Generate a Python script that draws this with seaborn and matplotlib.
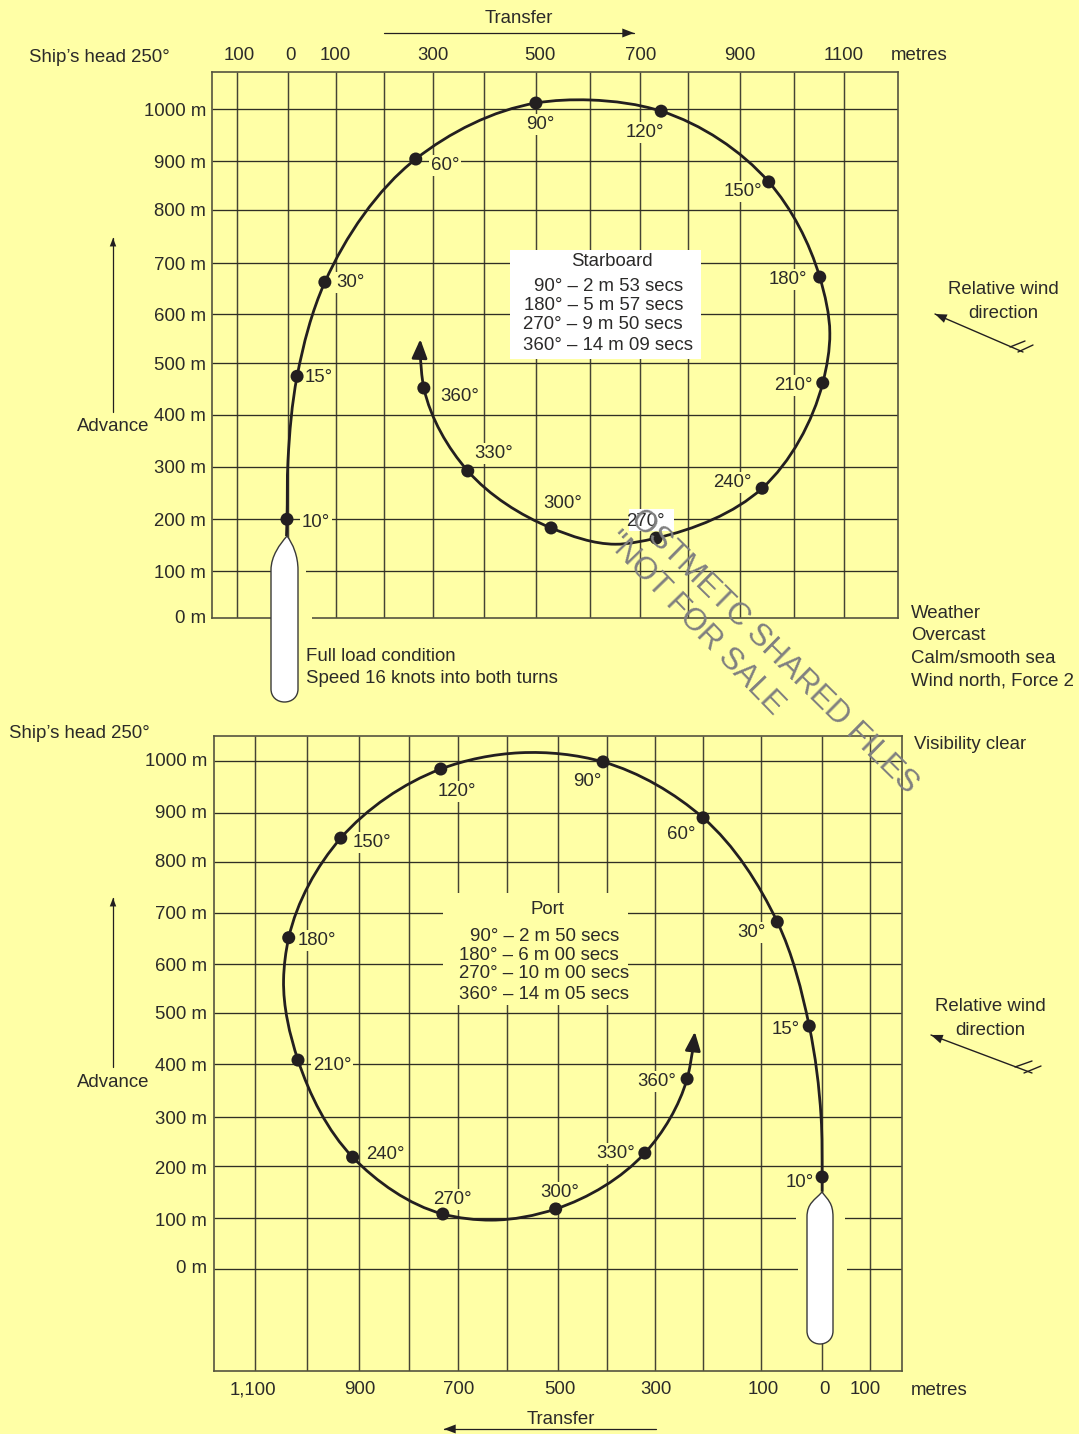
import numpy as np
import pandas as pd
import matplotlib
matplotlib.use('Agg')
import matplotlib.pyplot as plt
from matplotlib.patches import PathPatch, Rectangle
from matplotlib.path import Path
from matplotlib.transforms import Affine2D
import seaborn as sns

W, H = 1079, 1434
BG = '#ffffa6'
INK = '#2b2a29'
LINE = '#231f20'

# starboard turn, metres
stbd_path_x = [-3, -2, 0, 18, 73, 253, 491, 598, 739, 952, 1053, 1073, 1059, 939, 729, 648, 521, 356, 269, 261]
stbd_path_y = [161, 194, 310, 475, 660, 902, 1012, 1018, 996, 857, 670, 560, 462, 255, 157, 145, 177, 289, 452, 523]
stbd_tip = (262, 548)
stbd_dots_x = [-2, 18, 73, 253, 491, 739, 952, 1053, 1059, 939, 729, 521, 356, 269]
stbd_dots_y = [194, 475, 660, 902, 1012, 996, 857, 670, 462, 255, 157, 177, 289, 452]
stbd_grid_x = [-101, 0, 95, 190, 287, 388, 491, 598, 697, 792, 895, 1002, 1101]
stbd_grid_y = [1000, 898, 802, 697, 597, 501, 399, 297, 194, 92]
stbd_xticks = [-97, 4, 93, 287, 499, 699, 895, 1101]
stbd_xlabels = ['100', '0', '100', '300', '500', '700', '900', '1100']

# port turn, metres
port_path_x = [0, 0, 2, 25, 87, 231, 425, 586, 740, 934, 1035, 1045, 1017, 911, 736, 641, 517, 344, 262, 250]
port_path_y = [152, 181, 299, 478, 683, 888, 998, 1016, 984, 848, 652, 569, 411, 220, 108, 96, 118, 228, 374, 437]
port_tip = (247, 467)
port_dots_x = [0, 25, 87, 231, 425, 740, 934, 1035, 1017, 911, 736, 517, 344, 262]
port_dots_y = [181, 478, 683, 888, 998, 984, 848, 652, 411, 220, 108, 118, 228, 374]
port_grid_x = [1101, 1000, 899, 802, 707, 612, 513, 417, 324, 231, 118, 0, -93]
port_grid_y = [1000, 898, 801, 701, 600, 504, 404, 299, 203, 100, 0]
port_xticks = [1105, 897, 705, 509, 322, 115, -4, -84]
port_xlabels = ['1,100', '900', '700', '500', '300', '100', '0', '100']

metres_labels = ['1000 m', '900 m', '800 m', '700 m', '600 m', '500 m', '400 m', '300 m', '200 m', '100 m', '0 m']
stbd_yticks = [1000, 898, 802, 697, 597, 501, 399, 297, 194, 92, 2]
port_yticks = [1002, 900, 803, 701, 600, 504, 402, 299, 199, 98, 4]

angles = ['10°', '15°', '30°', '60°', '90°', '120°', '150°', '180°', '210°', '240°', '270°', '300°', '330°', '360°']
stbd_angle_xy = [(316, 521), (319, 376), (350, 281), (445, 164), (540, 123), (645, 131), (743, 190), (788, 278),
                 (793, 384), (732, 481), (645, 520), (563, 502), (494, 452), (460, 395)]
port_angle_xy = [(800, 1181), (786, 1028), (751, 931), (681, 833), (587, 780), (457, 790), (372, 841), (317, 939),
                 (332, 1064), (385, 1153), (452, 1198), (560, 1191), (616, 1152), (657, 1080)]

sns.set_theme(style='white')
plt.rcParams['font.family'] = ['Liberation Sans', 'DejaVu Sans']
plt.rcParams['text.color'] = INK
FS = 13.4

fig = plt.figure(figsize=(W / 100, H / 100), dpi=100, facecolor=BG)
# picture pixels, y going down
px = Affine2D().scale(1 / W, -1 / H).translate(0, 1) + fig.transFigure


def put(x, y, s, ha='center', **kw):
    kw.setdefault('fontsize', FS)
    return fig.text(x, y + 1.5, s, ha=ha, va='center', transform=px, **kw)


def arrow(tail, tip, lw=1.0, scale=9):
    fig.add_artist(plt.Line2D([tail[0], tip[0]], [tail[1], tip[1]], color=LINE, lw=lw, transform=px))
    d = np.array(tip, float) - np.array(tail, float)
    d = d / np.hypot(*d)
    n = np.array([-d[1], d[0]])
    tip = np.array(tip, float)
    head = np.array([tip, tip - d * scale * 1.3 + n * scale * 0.5, tip - d * scale * 1.3 - n * scale * 0.5])
    fig.add_artist(plt.Polygon(head, closed=True, fc=LINE, ec='none', transform=px, zorder=4))


def ship(l, r, bow, top, shoulder, bottom):
    mid = (l + r) / 2
    verts = [(bow, top), (r - 5, top + 8), (r, shoulder - 14), (r, shoulder),
             (r, bottom - 13), (r, bottom - 5), (r - 6, bottom), (mid, bottom),
             (l + 6, bottom), (l, bottom - 5), (l, bottom - 13),
             (l, shoulder), (l, shoulder - 14), (bow - 7, top + 8), (bow, top)]
    codes = [Path.MOVETO, Path.CURVE4, Path.CURVE4, Path.CURVE4,
             Path.LINETO, Path.CURVE4, Path.CURVE4, Path.CURVE4,
             Path.CURVE4, Path.CURVE4, Path.CURVE4,
             Path.LINETO, Path.CURVE4, Path.CURVE4, Path.CURVE4]
    fig.add_artist(PathPatch(Path(verts, codes), fc='white', ec='#3a3a3a', lw=1.0, transform=px, zorder=3))


def mask(ax, x0, y0, x1, y1, color=BG):
    ax.add_patch(Rectangle((x0, y0), x1 - x0, y1 - y0, fc=color, ec='none', transform=px, zorder=2, clip_on=False))


def smooth_track(xs, ys):
    # bezier curve passing through the points
    p = np.column_stack([xs, ys]).astype(float)
    seg = np.diff(p, axis=0)
    d = np.hypot(*seg.T)
    u = seg / d[:, None]
    t = np.zeros_like(p)
    t[1:-1] = (d[:-1, None] * u[1:] + d[1:, None] * u[:-1]) / (d[:-1] + d[1:])[:, None]
    t[0] = u[0]
    t[-1] = u[-1]
    verts = [p[0]]
    codes = [Path.MOVETO]
    for i in range(len(d)):
        verts += [p[i] + t[i] * d[i] / 3, p[i + 1] - t[i + 1] * d[i] / 3, p[i + 1]]
        codes += [Path.CURVE4] * 3
    return Path(verts, codes)


def panel(box, xlim, ylim, grid_x, grid_y, path_x, path_y, dots_x, dots_y, tip, xticks, xlabels, yticks, xtop, xpad, ypad):
    l, t, r, b = box
    ax = fig.add_axes([l / W, 1 - b / H, (r - l) / W, (b - t) / H], facecolor=BG)
    marks = pd.DataFrame({'x': dots_x, 'y': dots_y})
    ax.vlines(grid_x, *ylim, color='#454434', lw=1.05, zorder=1)
    ax.hlines(grid_y, *xlim, color='#302f24', lw=0.95, zorder=1)
    ax.add_patch(PathPatch(smooth_track(path_x, path_y), fc='none', ec=LINE, lw=2.0, zorder=4))
    sns.scatterplot(data=marks, x='x', y='y', s=88, color=LINE, edgecolor='none', ax=ax, zorder=5, clip_on=False)
    ax.annotate('', xy=tip, xytext=(path_x[-1], path_y[-1]), zorder=5,
                arrowprops=dict(arrowstyle='-|>,head_length=1.15,head_width=0.47', mutation_scale=10,
                                shrinkA=0, shrinkB=0, color=LINE, lw=1.9))
    ax.set_xlim(*xlim)
    ax.set_ylim(*ylim)
    ax.set_xlabel('')
    ax.set_ylabel('')
    ax.set_xticks(xticks, xlabels, fontsize=FS, color=INK)
    ax.set_yticks(yticks, metres_labels, fontsize=FS, color=INK)
    ax.tick_params(axis='x', length=0, pad=xpad, top=xtop, labeltop=xtop, bottom=not xtop, labelbottom=not xtop)
    ax.tick_params(axis='y', length=0, pad=ypad)
    for s in ax.spines.values():
        s.set_color('#55543f')
        s.set_linewidth(1.2)
        s.set_zorder(1.5)
    return ax


top = panel((212, 72, 898, 618), (-150.5, 1208), (0, 1073), stbd_grid_x, stbd_grid_y, stbd_path_x, stbd_path_y,
            stbd_dots_x, stbd_dots_y, stbd_tip, stbd_xticks, stbd_xlabels, stbd_yticks, True, 5.6, 4.3)
bot = panel((214, 736, 902, 1371), (1180, -155), (-201, 1049), port_grid_x, port_grid_y, port_path_x, port_path_y,
            port_dots_x, port_dots_y, port_tip, port_xticks, port_xlabels, port_yticks, False, 7.5, 5)

# gaps in the grid
mask(top, 271, 566, 306, 576)
mask(top, 271, 613, 312, 623)
mask(top, 510, 250, 701, 359, 'white')
mask(top, 629, 509, 674, 531, 'white')
mask(bot, 796, 1213, 845, 1223)
mask(bot, 798, 1264, 847, 1274)
mask(bot, 443, 893, 628, 1005)

for (x, y), s in zip(stbd_angle_xy, angles):
    c = 'none' if s == '270°' else BG
    top.text(x, y + 1.5, s, ha='center', va='center', fontsize=FS, transform=px, zorder=3, clip_on=False,
             bbox=dict(fc=c, ec='none', pad=1.5))
for (x, y), s in zip(port_angle_xy, angles):
    bot.text(x, y + 1.5, s, ha='center', va='center', fontsize=FS, transform=px, zorder=3, clip_on=False,
             bbox=dict(fc=BG, ec='none', pad=1.5))

ship(271, 298, 287, 536, 570, 702)
ship(807, 833, 822, 1192, 1217, 1344)

# notes
put(29, 56, 'Ship’s head 250°', ha='left')
put(9, 732, 'Ship’s head 250°', ha='left')
put(519, 17, 'Transfer')
put(561, 1418, 'Transfer')
put(919, 54, 'metres')
put(939, 1389, 'metres')
put(113, 425, 'Advance')
put(113, 1081, 'Advance')
arrow((384, 33), (634, 33), lw=0.9)
arrow((656, 1429), (444, 1429), lw=0.9)
arrow((113, 412), (113, 238), lw=0.9, scale=6.5)
arrow((113, 1067), (113, 898), lw=0.9, scale=6.5)

put(1003, 288, 'Relative wind')
put(1003, 312, 'direction')
put(990, 1005, 'Relative wind')
put(990, 1029, 'direction')
arrow((1023, 352), (935, 314), lw=1.0)
arrow((1032, 1073), (931, 1035), lw=1.0)
for a, b in [((1010, 347), (1025, 341)), ((1018, 352), (1033, 345)),
             ((1015, 1067), (1032, 1061)), ((1024, 1073), (1041, 1066))]:
    fig.add_artist(plt.Line2D([a[0], b[0]], [a[1], b[1]], color=LINE, lw=1.0, transform=px))

for y, s in zip([612, 634, 657, 679], ['Weather', 'Overcast', 'Calm/smooth sea', 'Wind north, Force 2']):
    put(911, y, s, ha='left')
put(914, 743, 'Visibility clear', ha='left')
put(306, 655, 'Full load condition', ha='left')
put(306, 677, 'Speed 16 knots into both turns', ha='left')

put(612, 260, 'Starboard')
for y, r, s in zip([285, 304, 323, 344], [683, 683, 683, 693],
                   ['90° – 2 m 53 secs', '180° – 5 m 57 secs', '270° – 9 m 50 secs', '360° – 14 m 09 secs']):
    put(r, y, s, ha='right')
put(547, 908, 'Port')
for y, r, s in zip([935, 954, 972, 993], [619, 619, 629, 629],
                   ['90° – 2 m 50 secs', '180° – 6 m 00 secs', '270° – 10 m 00 secs', '360° – 14 m 05 secs']):
    put(r, y, s, ha='right')

# stamp across the page
put(774, 650, 'OSTMETC SHARED FILES', fontsize=22.7, color='#808080', rotation=-44.6, rotation_mode='anchor', zorder=6)
put(695, 622, '"NOT FOR SALE', fontsize=22.7, color='#808080', rotation=-46, rotation_mode='anchor', zorder=6)

fig.savefig('out.png', dpi=100, facecolor=BG)
